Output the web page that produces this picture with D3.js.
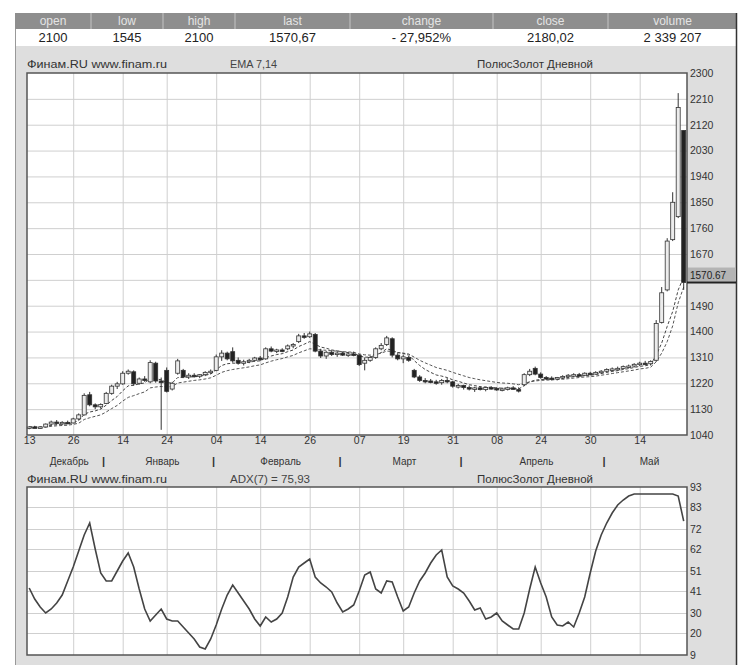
<!DOCTYPE html>
<html>
<head>
<meta charset="utf-8">
<script src="https://cdn.jsdelivr.net/npm/d3@7"></script>
<style>
  body { margin: 0; background: #fff; }
  svg { display: block; font-family: "Liberation Sans", Arial, sans-serif; }
</style>
</head>
<body>
<svg id="chart" width="747" height="665"></svg>
<script>
// quote table
var quoteFields = ["open", "low", "high", "last", "change", "close", "volume"];
var quoteValues = ["2100", "1545", "2100", "1570,67", "- 27,952%", "2180,02", "2 339 207"];

// daily candles, 13 Dec .. end of May
var open = [1065,1068,1066,1068,1078,1085,1080,1084,1082,1096,
  1110,1180,1145,1138,1150,1185,1210,1218,1255,1260,
  1220,1235,1225,1290,1228,1265,1200,1255,1265,1242,
  1248,1245,1250,1258,1265,1312,1325,1330,1300,1290,
  1295,1300,1308,1305,1340,1332,1336,1340,1350,1365,
  1385,1382,1390,1332,1315,1328,1320,1325,1318,1322,
  1318,1290,1300,1310,1340,1355,1375,1318,1305,1310,
  1265,1242,1230,1228,1225,1222,1230,1225,1210,1212,
  1205,1200,1204,1198,1205,1202,1198,1200,1204,1198,
  1215,1250,1272,1252,1240,1238,1236,1240,1244,1248,
  1250,1248,1255,1252,1258,1262,1268,1270,1272,1278,
  1280,1286,1290,1288,1300,1432,1545,1720,1800,2100];
var high = [1070,1072,1070,1080,1090,1092,1088,1090,1100,1115,
  1185,1190,1150,1150,1190,1215,1225,1262,1268,1265,
  1240,1245,1300,1295,1240,1275,1225,1305,1270,1255,
  1255,1252,1262,1268,1320,1335,1330,1345,1310,1302,
  1305,1312,1315,1345,1348,1340,1342,1355,1360,1392,
  1395,1400,1395,1340,1332,1335,1332,1330,1328,1330,
  1322,1310,1315,1345,1360,1385,1380,1325,1320,1315,
  1270,1248,1238,1235,1232,1235,1238,1228,1218,1215,
  1212,1208,1210,1208,1210,1206,1205,1208,1210,1206,
  1255,1270,1278,1258,1245,1244,1242,1248,1252,1255,
  1256,1258,1260,1262,1266,1272,1275,1278,1282,1285,
  1290,1295,1298,1300,1440,1555,1725,1885,2230,2100];
var low = [1060,1064,1062,1066,1072,1076,1074,1078,1080,1092,
  1108,1140,1130,1132,1148,1180,1200,1215,1250,1212,
  1215,1225,1220,1222,1058,1188,1195,1250,1238,1235,
  1240,1238,1245,1252,1262,1298,1300,1292,1285,1282,
  1290,1295,1298,1302,1328,1325,1328,1335,1342,1360,
  1375,1378,1328,1308,1305,1315,1312,1315,1312,1314,
  1280,1265,1295,1305,1335,1350,1310,1300,1290,1295,
  1238,1225,1220,1220,1215,1215,1220,1205,1202,1198,
  1195,1190,1195,1192,1198,1194,1192,1195,1198,1188,
  1210,1245,1248,1236,1232,1230,1230,1235,1240,1242,
  1244,1245,1248,1250,1252,1258,1262,1264,1268,1272,
  1275,1280,1284,1282,1295,1428,1540,1715,1795,1545];
var close = [1068,1066,1068,1078,1085,1080,1084,1082,1096,1110,
  1178,1145,1138,1146,1185,1210,1218,1255,1262,1218,
  1235,1230,1292,1228,1222,1192,1220,1298,1242,1248,
  1245,1250,1258,1262,1312,1325,1305,1298,1290,1295,
  1300,1308,1302,1340,1332,1336,1334,1350,1355,1385,
  1380,1392,1332,1315,1328,1320,1325,1318,1322,1318,
  1285,1300,1310,1340,1352,1378,1318,1305,1312,1300,
  1242,1230,1228,1225,1222,1230,1225,1210,1212,1205,
  1200,1204,1198,1205,1202,1198,1200,1204,1200,1195,
  1250,1262,1252,1240,1238,1236,1240,1244,1248,1250,
  1248,1255,1252,1258,1262,1268,1270,1272,1278,1280,
  1286,1290,1288,1296,1428,1535,1715,1850,2180,1570.67];

// EMA 7 and EMA 14 as drawn
var emaFast = [1068,1067,1067,1070,1074,1076,1078,1079,1083,1090,
  1112,1120,1124,1130,1144,1160,1174,1194,1211,1213,
  1218,1221,1239,1236,1232,1222,1221,1240,1240,1242,
  1243,1245,1248,1252,1267,1282,1288,1290,1290,1291,
  1293,1297,1298,1309,1315,1320,1323,1330,1336,1348,
  1356,1365,1356,1346,1342,1336,1333,1329,1327,1325,
  1315,1311,1311,1318,1327,1340,1335,1327,1324,1318,
  1299,1282,1268,1258,1249,1245,1240,1232,1227,1221,
  1215,1212,1208,1207,1206,1204,1203,1203,1202,1200,
  1212,1225,1231,1233,1234,1235,1236,1238,1240,1243,
  1244,1247,1248,1251,1254,1258,1261,1264,1268,1271,
  1275,1279,1281,1285,1318,1360,1418,1470,1545,1590];
var emaSlow = [1068,1068,1067,1068,1070,1072,1073,1074,1077,1081,
  1094,1100,1105,1110,1120,1132,1143,1158,1171,1177,
  1184,1190,1204,1207,1209,1207,1209,1221,1224,1227,
  1230,1232,1235,1239,1248,1258,1264,1268,1271,1274,
  1277,1281,1284,1291,1297,1302,1306,1312,1317,1326,
  1333,1340,1339,1336,1335,1333,1332,1330,1329,1328,
  1322,1319,1318,1320,1325,1332,1331,1327,1325,1322,
  1311,1300,1291,1283,1275,1270,1265,1258,1252,1246,
  1240,1236,1232,1229,1226,1223,1221,1220,1218,1215,
  1220,1225,1228,1230,1231,1232,1233,1234,1236,1238,
  1240,1242,1243,1245,1248,1251,1254,1257,1260,1263,
  1266,1270,1272,1276,1295,1325,1365,1420,1500,1555];

// ADX(7)
var adx = [42.5,37,33,30,32,35,39,46,53,61,
  69,75,62,50,46,46,51,56,60,53,
  42,32,26,29,32,27,26,26,23,20,
  17,13,12,17,24,32,39,44,40,36,
  32,27,23.5,28,25.5,27,30,38,48,53,
  55,57,48,45,43,40.5,35,30.5,32,34,
  41,49,50.5,42,40,46,45.5,38,31,33,
  40,46,50,55,59,61.5,48,43.5,42,40,
  36,31.5,32.5,27,28,30,26,24,22,22,
  30,42,53,45,38,28,24,23.5,25.5,23,
  30,38,50,61,69,75,80,84,86.5,88.5,
  89.5,89.5,89.5,89.5,89.5,89.5,89.5,89.5,88.5,75.93];

var dateTicks = [0, 8, 17, 25, 34, 42, 51, 60, 68, 77, 85, 93, 102, 111];
var dateLabels = ["13", "26", "14", "24", "04", "14", "26", "07", "19", "31", "08", "24", "30", "14"];
var months = ["Декабрь", "Январь", "Февраль", "Март", "Апрель", "Май"];
var monthStarts = [0, 14, 34, 57, 79, 105];
var priceTicks = [2300, 2210, 2120, 2030, 1940, 1850, 1760, 1670, 1490, 1400, 1310, 1220, 1130, 1040];
var priceGrid = [2210, 2120, 2030, 1940, 1850, 1760, 1670, 1580, 1490, 1400, 1310, 1220, 1130];
var adxTicks = [93, 83, 72, 62, 51, 41, 30, 20, 9];
var lastPrice = 1570.67;

var N = close.length;
var svg = d3.select("#chart");

// quote table at the top
var colEdges = [15, 91, 163, 235, 350, 493, 608, 737];
svg.append("rect").attr("x", 15).attr("y", 13).attr("width", 722).attr("height", 16).attr("fill", "#8e8e8e");
quoteFields.forEach(function(f, k) {
  var cx = (colEdges[k] + colEdges[k + 1]) / 2;
  svg.append("text").attr("x", cx).attr("y", 25).attr("text-anchor", "middle")
    .attr("font-size", 12).attr("fill", "#e4e4e4").text(f);
  svg.append("text").attr("x", cx).attr("y", 42).attr("text-anchor", "middle")
    .attr("font-size", 13).attr("fill", "#222")
    .style("font-family", "'Liberation Sans Narrow', 'Liberation Sans', sans-serif")
    .text(quoteValues[k]);
  if (k > 0) {
    svg.append("line").attr("x1", colEdges[k]).attr("x2", colEdges[k])
      .attr("y1", 13).attr("y2", 29).attr("stroke", "#c4c4c4");
  }
});

// gray panel
svg.append("rect").attr("x", 15).attr("y", 46).attr("width", 722).attr("height", 619).attr("fill", "#dedede");
svg.append("line").attr("x1", 15.5).attr("x2", 15.5).attr("y1", 29).attr("y2", 665).attr("stroke", "#999");
svg.append("line").attr("x1", 736.5).attr("x2", 736.5).attr("y1", 13).attr("y2", 665).attr("stroke", "#333").attr("stroke-width", 1.5);

var left = 27, right = 687;
var x = d3.scaleLinear().domain([-0.4, N - 0.4]).range([left, right]);
var y = d3.scaleLinear().domain([1040, 2300]).range([435, 73]);
var yA = d3.scaleLinear().domain([9, 93]).range([655, 487]);

function titles(ty, mid, midLen) {
  svg.append("text").attr("x", left).attr("y", ty).attr("font-size", 10).attr("fill", "#333")
    .attr("textLength", 140).attr("lengthAdjust", "spacingAndGlyphs")
    .text("Финам.RU  www.finam.ru");
  svg.append("text").attr("x", 230).attr("y", ty).attr("font-size", 10).attr("fill", "#444")
    .attr("textLength", midLen).attr("lengthAdjust", "spacingAndGlyphs").text(mid);
  svg.append("text").attr("x", 477).attr("y", ty).attr("font-size", 10)
    .attr("textLength", 116).attr("lengthAdjust", "spacingAndGlyphs")
    .attr("fill", "#333").text("ПолюсЗолот  Дневной");
}

// ---------- price panel ----------
titles(68, "EMA 7,14", 47);
svg.append("rect").attr("x", left).attr("y", 73).attr("width", right - left).attr("height", 362).attr("fill", "#fff");

svg.append("g").attr("class", "grid").attr("transform", "translate(" + left + ",0)")
  .call(d3.axisLeft(y).tickValues(priceGrid).tickSize(-(right - left)).tickFormat(""));
svg.append("g").attr("class", "grid").attr("transform", "translate(0,435)")
  .call(d3.axisBottom(x).tickValues(dateTicks.slice(1)).tickSize(-362).tickFormat(""));

// EMA lines
var emaLine = function(arr) {
  return d3.line().x(function(d, i) { return x(i); }).y(function(d) { return y(d); })(arr);
};
svg.append("path").attr("d", emaLine(emaSlow)).attr("fill", "none").attr("stroke", "#555")
  .attr("stroke-width", 1).attr("stroke-dasharray", "3,2");
svg.append("path").attr("d", emaLine(emaFast)).attr("fill", "none").attr("stroke", "#444")
  .attr("stroke-width", 1).attr("stroke-dasharray", "3,2");

// candles
var candles = svg.selectAll(".candle").data(close).enter().append("g").attr("class", "candle");
candles.append("line")
  .attr("x1", function(d, i) { return x(i); })
  .attr("x2", function(d, i) { return x(i); })
  .attr("y1", function(d, i) { return y(high[i]); })
  .attr("y2", function(d, i) { return y(low[i]); })
  .attr("stroke", "#333");
candles.append("rect")
  .attr("x", function(d, i) { return x(i) - 2; })
  .attr("width", 4)
  .attr("y", function(d, i) { return y(Math.max(open[i], d)); })
  .attr("height", function(d, i) { return Math.max(1.5, Math.abs(y(open[i]) - y(d))); })
  .attr("fill", function(d, i) { return d >= open[i] ? "#ececec" : "#222"; })
  .attr("stroke", "#333").attr("stroke-width", 0.8);

svg.append("rect").attr("x", left).attr("y", 73).attr("width", right - left).attr("height", 362)
  .attr("fill", "none").attr("stroke", "#555").attr("stroke-width", 1.5);

// price axis
var pAxis = svg.append("g").attr("transform", "translate(" + (right + 2) + ",0)")
  .call(d3.axisRight(y).tickValues(priceTicks).tickSize(0).tickFormat(d3.format("d")));
pAxis.select(".domain").remove();
pAxis.selectAll("text").attr("font-size", 10.5).attr("fill", "#333").attr("x", 1)
  .style("font-family", "'Liberation Sans', sans-serif");

// last price marker
svg.append("rect").attr("x", right + 1).attr("y", y(lastPrice) - 15).attr("width", 735 - right).attr("height", 14)
  .attr("fill", "#b4b4b4");
svg.append("text").attr("x", right + 3).attr("y", y(lastPrice) - 4).attr("font-size", 10).attr("fill", "#222")
  .text("1570.67");
svg.append("line").attr("x1", right).attr("x2", 736).attr("y1", y(lastPrice)).attr("y2", y(lastPrice))
  .attr("stroke", "#222").attr("stroke-width", 2);

// date axis
var dAxis = svg.append("g").attr("transform", "translate(0,435)")
  .call(d3.axisBottom(x).tickValues(dateTicks).tickSize(0)
    .tickFormat(function(d, k) { return dateLabels[k]; }));
dAxis.select(".domain").remove();
dAxis.selectAll("text").attr("font-size", 10.5).attr("fill", "#333").attr("dy", "0.55em")
  .style("font-family", "'Liberation Sans', sans-serif");

// months
months.forEach(function(m, k) {
  var a = k === 0 ? left : x(monthStarts[k] - 0.5);
  var b = k === months.length - 1 ? right : x(monthStarts[k + 1] - 0.5);
  svg.append("text").attr("x", (a + b) / 2 + 4).attr("y", 465).attr("text-anchor", "middle")
    .attr("font-size", 10).attr("fill", "#333").text(m);
  if (k > 0) {
    svg.append("text").attr("x", a).attr("y", 465).attr("text-anchor", "middle")
      .attr("font-size", 11).attr("font-weight", "bold").attr("fill", "#333").text("|");
  }
});

// ---------- ADX panel ----------
titles(483, "ADX(7) = 75,93", 80);
svg.append("rect").attr("x", left).attr("y", 487).attr("width", right - left).attr("height", 168).attr("fill", "#fff");
svg.append("g").attr("class", "grid").attr("transform", "translate(" + left + ",0)")
  .call(d3.axisLeft(yA).tickValues(adxTicks.slice(1, -1)).tickSize(-(right - left)).tickFormat(""));
svg.append("g").attr("class", "grid").attr("transform", "translate(0,655)")
  .call(d3.axisBottom(x).tickValues(dateTicks.slice(1)).tickSize(-168).tickFormat(""));

svg.append("path")
  .attr("d", d3.line().x(function(d, i) { return x(i); }).y(function(d) { return yA(d); })(adx))
  .attr("fill", "none").attr("stroke", "#444").attr("stroke-width", 1.6);

svg.append("rect").attr("x", left).attr("y", 487).attr("width", right - left).attr("height", 168)
  .attr("fill", "none").attr("stroke", "#555").attr("stroke-width", 1.5);

var aAxis = svg.append("g").attr("transform", "translate(" + (right + 2) + ",0)")
  .call(d3.axisRight(yA).tickValues(adxTicks).tickSize(0));
aAxis.select(".domain").remove();
aAxis.selectAll("text").attr("font-size", 10.5).attr("fill", "#333").attr("x", 1)
  .style("font-family", "'Liberation Sans', sans-serif");

// grid styling
svg.selectAll(".grid .domain").remove();
svg.selectAll(".grid line").attr("stroke", "#cfcfcf").attr("stroke-width", 1);
</script>
</body>
</html>
